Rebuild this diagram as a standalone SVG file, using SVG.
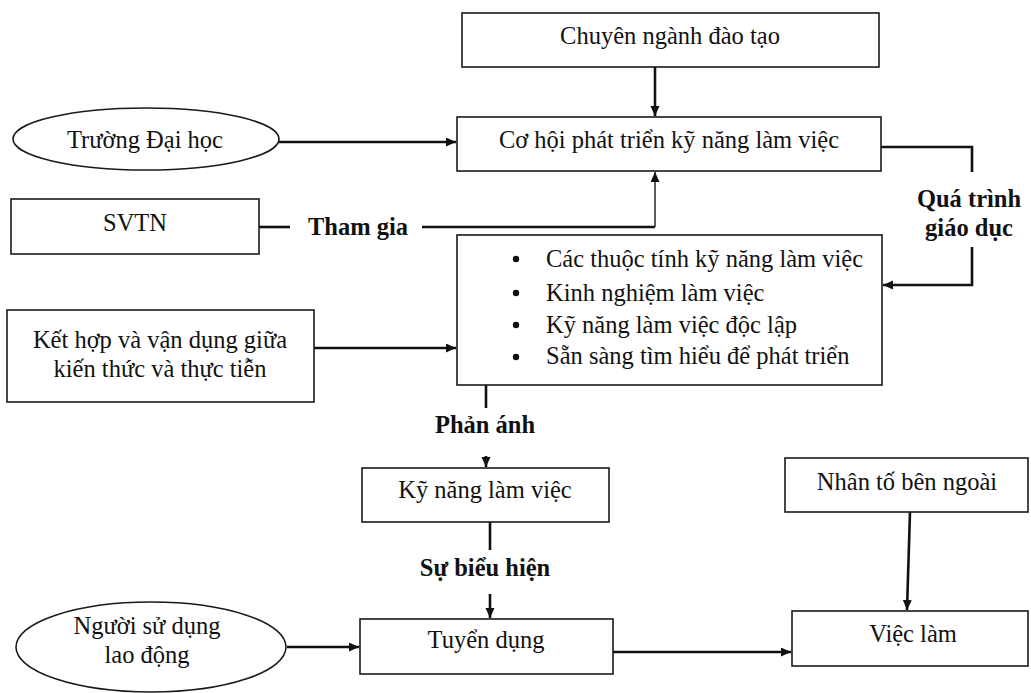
<svg xmlns="http://www.w3.org/2000/svg" width="1031" height="693" viewBox="0 0 1031 693">
  <style>
    .box { fill: #ffffff; stroke: #1a1a1a; stroke-width: 1.6; }
    .txt { font-size: 24.5px; fill: #111111; }
    .mid { text-anchor: middle; }
    .lbl { font-size: 24.5px; font-weight: bold; fill: #111111; text-anchor: middle; }
    .wire { fill: none; stroke: #111111; stroke-width: 2.6; }
    .thin { fill: none; stroke: #333333; stroke-width: 1.6; }
  </style>
  <defs>
    <marker id="arrow" markerUnits="userSpaceOnUse" markerWidth="11" markerHeight="10" refX="10" refY="4.5" orient="auto">
      <path d="M0,0 L10,4.5 L0,9 Z" fill="#111111"/>
    </marker>
  </defs>

  <rect width="1031" height="693" fill="#ffffff"/>

  <!-- connectors -->
  <g id="connectors">
    <path class="wire" d="M655,67 V116" marker-end="url(#arrow)"/>
    <path class="wire" d="M279,142 H456" marker-end="url(#arrow)"/>
    <path class="wire" d="M259,227 H290"/>
    <path class="wire" d="M422,227 H655"/>
    <path class="thin" d="M655,227 V172" marker-end="url(#arrow)"/>
    <path class="wire" d="M881,147 H972 V172"/>
    <path class="wire" d="M972,247 V285 H883" marker-end="url(#arrow)"/>
    <path class="wire" d="M314,348 H456" marker-end="url(#arrow)"/>
    <path class="wire" d="M486,385 V408"/>
    <path class="wire" d="M486,456 V467" marker-end="url(#arrow)"/>
    <path class="wire" d="M490,522 V550"/>
    <path class="wire" d="M490,594 V618" marker-end="url(#arrow)"/>
    <path class="wire" d="M287,647 H359" marker-end="url(#arrow)"/>
    <path class="wire" d="M613,652 H791" marker-end="url(#arrow)"/>
    <path class="wire" d="M910,512 L907,610" marker-end="url(#arrow)"/>
  </g>

  <g font-family="'Liberation Serif', 'DejaVu Serif', serif">
  <!-- connector labels -->
  <g id="labels">
    <text class="lbl" x="358" y="235">Tham gia</text>
    <text class="lbl" x="969" y="207">Quá trình</text>
    <text class="lbl" x="969" y="236">giáo dục</text>
    <text class="lbl" x="485" y="433">Phản ánh</text>
    <text class="lbl" x="485" y="576">Sự biểu hiện</text>
  </g>

  <g id="node-chuyen-nganh">
    <rect class="box" x="462" y="13" width="417" height="54"/>
    <text class="txt mid" x="670" y="44">Chuyên ngành đào tạo</text>
  </g>

  <g id="node-co-hoi">
    <rect class="box" x="457" y="117" width="424" height="54"/>
    <text class="txt mid" x="669" y="148">Cơ hội phát triển kỹ năng làm việc</text>
  </g>

  <g id="node-truong">
    <ellipse class="box" cx="146" cy="139" rx="133" ry="31"/>
    <text class="txt mid" x="145" y="148">Trường Đại học</text>
  </g>

  <g id="node-svtn">
    <rect class="box" x="11" y="199" width="248" height="55"/>
    <text class="txt mid" x="135" y="231">SVTN</text>
  </g>

  <g id="node-thuoc-tinh">
    <rect class="box" x="457" y="235" width="425" height="150"/>
    <g class="txt">
      <circle cx="516" cy="259" r="3.2" fill="#111111"/>
      <text x="546" y="267">Các thuộc tính kỹ năng làm việc</text>
      <circle cx="516" cy="293" r="3.2" fill="#111111"/>
      <text x="546" y="301">Kinh nghiệm làm việc</text>
      <circle cx="516" cy="325" r="3.2" fill="#111111"/>
      <text x="546" y="333">Kỹ năng làm việc độc lập</text>
      <circle cx="516" cy="357" r="3.2" fill="#111111"/>
      <text x="546" y="364">Sẵn sàng tìm hiểu để phát triển</text>
    </g>
  </g>

  <g id="node-ket-hop">
    <rect class="box" x="7" y="310" width="307" height="92"/>
    <text class="txt mid" x="160" y="348">Kết hợp và vận dụng giữa</text>
    <text class="txt mid" x="160" y="377">kiến thức và thực tiễn</text>
  </g>

  <g id="node-ky-nang">
    <rect class="box" x="362" y="468" width="247" height="54"/>
    <text class="txt mid" x="485" y="498">Kỹ năng làm việc</text>
  </g>

  <g id="node-nhan-to">
    <rect class="box" x="785" y="458" width="243" height="54"/>
    <text class="txt mid" x="907" y="490">Nhân tố bên ngoài</text>
  </g>

  <g id="node-nguoi-su-dung">
    <ellipse class="box" cx="151" cy="647" rx="135" ry="45"/>
    <text class="txt mid" x="147" y="634">Người sử dụng</text>
    <text class="txt mid" x="147" y="663">lao động</text>
  </g>

  <g id="node-tuyen-dung">
    <rect class="box" x="360" y="619" width="253" height="55"/>
    <text class="txt mid" x="486" y="648">Tuyển dụng</text>
  </g>

  <g id="node-viec-lam">
    <rect class="box" x="792" y="611" width="236" height="55"/>
    <text class="txt mid" x="913" y="642">Việc làm</text>
  </g>
  </g>
</svg>
